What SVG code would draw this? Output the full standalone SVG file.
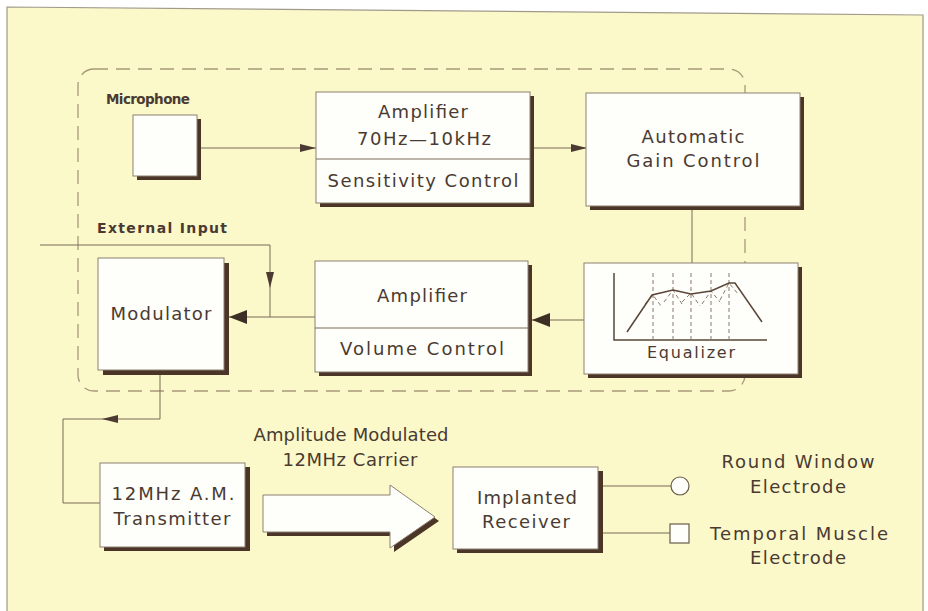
<svg xmlns="http://www.w3.org/2000/svg" width="928" height="611" viewBox="0 0 928 611">
<defs>
<style>
.t{font-family:"DejaVu Sans","Liberation Sans",sans-serif;font-size:18px;fill:#4a3a31;text-anchor:middle}
.lb{font-weight:bold;font-size:14px}
.box{fill:#fefefa;stroke:#8c8070;stroke-width:1}
.sh{fill:#4a3526}
.ln{fill:none;stroke:#7a6a58;stroke-width:1}
.dash{fill:none;stroke:#a8987a;stroke-width:1.3;stroke-dasharray:14 8}
.eq{fill:none;stroke:#5a4638;stroke-width:1.5}
.eqd{fill:none;stroke:#8a7a6a;stroke-width:1;stroke-dasharray:4 3}
</style>
<marker id="ms" markerUnits="userSpaceOnUse" markerWidth="18" markerHeight="12" refX="16" refY="5" orient="auto">
<path d="M0,1 L16,5 L0,9 Z" fill="#4a3a31"/>
</marker>
<marker id="mb" markerUnits="userSpaceOnUse" markerWidth="20" markerHeight="14" refX="18" refY="7" orient="auto">
<path d="M0,0 L18,7 L0,14 Z" fill="#3e2f26"/>
</marker>
</defs>
<rect width="928" height="611" fill="#ffffff"/>
<polygon points="7,7 923,15 923,611 7,611" fill="#fbf8c9"/>
<polyline points="7,611 7,7 923,15 923,611" fill="none" stroke="#a09a8a" stroke-width="1.2"/>
<rect class="dash" x="78" y="69" width="667" height="322" rx="16"/>

<g id="connectors">
<line class="ln" x1="197" y1="148" x2="316" y2="148" marker-end="url(#ms)"/>
<line class="ln" x1="530" y1="148" x2="587" y2="148" marker-end="url(#ms)"/>
<line class="ln" x1="692" y1="206" x2="692" y2="263"/>
<line class="ln" x1="584" y1="320" x2="532" y2="320" marker-end="url(#mb)"/>
<line class="ln" x1="315" y1="317" x2="229" y2="317" marker-end="url(#mb)"/>
<polyline class="ln" points="40,245 270,245 270,288" marker-end="url(#ms)"/>
<line class="ln" x1="270" y1="288" x2="270" y2="317"/>
<polyline class="ln" points="160,375 160,419 102,419" marker-end="url(#ms)"/>
<polyline class="ln" points="102,419 63,419 63,503 100,503"/>
<line class="ln" x1="603" y1="486" x2="671" y2="486"/>
<line class="ln" x1="603" y1="533" x2="670" y2="533"/>
</g>

<g id="microphone">
<text class="t lb" x="148" y="104" style="font-size:13.5px" textLength="84">Microphone</text>
<rect class="sh" x="137" y="119" width="64" height="61"/>
<rect class="box" x="133" y="115" width="64" height="61"/>
</g>

<g id="amplifier1">
<rect class="sh" x="320" y="96" width="214" height="111"/>
<rect class="box" x="316" y="92" width="214" height="111"/>
<line class="ln" x1="316" y1="159" x2="530" y2="159"/>
<text class="t" x="423" y="118" textLength="90">Amplifier</text>
<text class="t" x="424" y="145" textLength="134">70Hz—10kHz</text>
<text class="t" x="423" y="187" textLength="191">Sensitivity  Control</text>
</g>

<g id="agc">
<rect class="sh" x="590" y="97" width="214" height="113"/>
<rect class="box" x="586" y="93" width="214" height="113"/>
<text class="t" x="693" y="143" textLength="103">Automatic</text>
<text class="t" x="693" y="167" textLength="133">Gain  Control</text>
</g>

<g id="equalizer">
<rect class="sh" x="588" y="267" width="214" height="111"/>
<rect class="box" x="584" y="263" width="214" height="111"/>
<polyline class="eq" points="614,273 614,340 767,340"/>
<g class="eqd">
<line x1="653" y1="273" x2="653" y2="340"/>
<line x1="673" y1="273" x2="673" y2="340"/>
<line x1="691" y1="273" x2="691" y2="340"/>
<line x1="711" y1="273" x2="711" y2="340"/>
<line x1="729" y1="273" x2="729" y2="340"/>
<polyline points="645,304 653,295 661,306"/>
<polyline points="664,302 673,290 682,304"/>
<polyline points="682,302 691,293 700,306"/>
<polyline points="702,304 711,291 720,302"/>
<polyline points="720,300 729,283 738,294"/>
</g>
<polyline class="eq" points="627,332 652,295 673,290 691,294 711,291 729,283 735,283 762,322"/>
<text class="t" x="691" y="358" style="font-size:16px" textLength="88">Equalizer</text>
</g>

<g id="amplifier2">
<rect class="sh" x="319" y="265" width="213" height="111"/>
<rect class="box" x="315" y="261" width="213" height="111"/>
<line class="ln" x1="315" y1="328" x2="528" y2="328"/>
<text class="t" x="422" y="302" textLength="90">Amplifier</text>
<text class="t" x="422" y="355" textLength="164">Volume  Control</text>
</g>

<g id="external-input">
<text class="t lb" x="162" y="233" textLength="130">External  Input</text>
</g>

<g id="modulator">
<rect class="sh" x="103" y="263" width="126" height="112"/>
<rect class="box" x="98" y="258" width="126" height="112"/>
<text class="t" x="161" y="320" textLength="101">Modulator</text>
</g>

<g id="transmitter">
<rect class="sh" x="104" y="467" width="146" height="84"/>
<rect class="box" x="100" y="463" width="145" height="84"/>
<text class="t" x="173" y="500" textLength="123">12MHz  A.M.</text>
<text class="t" x="172" y="525" textLength="117">Transmitter</text>
</g>

<g id="carrier-arrow">
<polygon class="sh" points="267,499 394,499 394,489 439,521 394,552 394,536 267,536"/>
<polygon class="box" points="263,495 390,495 390,485 435,517 390,548 390,532 263,532"/>
<text class="t" x="351" y="441" textLength="195">Amplitude  Modulated</text>
<text class="t" x="350" y="466" textLength="135">12MHz  Carrier</text>
</g>

<g id="receiver">
<rect class="sh" x="457" y="471" width="146" height="82"/>
<rect class="box" x="453" y="467" width="145" height="82"/>
<text class="t" x="527" y="504" textLength="100">Implanted</text>
<text class="t" x="526" y="528" textLength="88">Receiver</text>
</g>

<g id="round-window">
<circle cx="680" cy="486" r="9" fill="#fefefa" stroke="#6a5a4a" stroke-width="1.2"/>
<text class="t" x="798" y="468" textLength="153">Round  Window</text>
<text class="t" x="798" y="493" textLength="96">Electrode</text>
</g>

<g id="temporal-muscle">
<rect x="670" y="524" width="19" height="19" fill="#fefefa" stroke="#6a5a4a" stroke-width="1.2"/>
<text class="t" x="799" y="540" textLength="178">Temporal  Muscle</text>
<text class="t" x="798" y="564" textLength="96">Electrode</text>
</g>
</svg>
